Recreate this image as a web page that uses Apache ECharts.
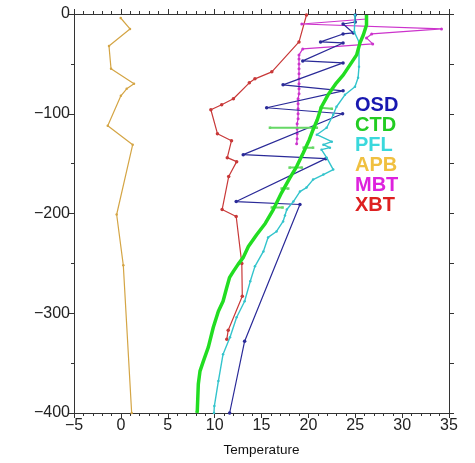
<!DOCTYPE html>
<html>
<head>
<meta charset="utf-8">
<script src="https://cdn.jsdelivr.net/npm/echarts@6/dist/echarts.min.js"></script>
<style>html,body{margin:0;padding:0;background:#fff}#c{width:475px;height:463px}</style>
</head>
<body>
<div id="c"></div>
<script>
// Temperature (x) vs Depth (y) profiles
const OSD = [[25.0,-1],[25.0,-8],[23.7,-10],[24.8,-19],[23.7,-20],[21.3,-28],[23.7,-29],[19.4,-47],[23.7,-49],[17.3,-71],[23.7,-77],[15.55,-94],[23.65,-100],[13.05,-141],[21.85,-145],[12.3,-188],[19.1,-191],[13.2,-328],[11.6,-400]];
const CTD = [[26.2,-1],[26.2,-11],[25.86,-21],[25.5,-29],[25.15,-41],[24.44,-51],[23.73,-61],[23.0,-69],[22.1,-81],[21.4,-93],[20.95,-106],[20.5,-116],[20.1,-126],[19.46,-139],[18.75,-153],[18.04,-164],[17.15,-179],[16.26,-196],[15.4,-210],[14.5,-221],[13.6,-233],[13.06,-244],[12.5,-251],[12.0,-258],[11.6,-264],[11.3,-274],[10.9,-288],[10.4,-298],[9.86,-314],[9.33,-334],[8.8,-348],[8.44,-358],[8.26,-371],[8.15,-398],[8.1,-400]];
const CTD_SPIKES = [[21.3,-94],[22.5,-95],null,[15.9,-114],[20.9,-114],null,[19.5,-134],[20.5,-134],null,[18.0,-154],[19.3,-154],null,[17.15,-175],[17.85,-175],null,[16.1,-194],[17.25,-194]];
const PFL = [[24.97,-1],[24.9,-18],[25.4,-28],[25.4,-53],[25.3,-64],[24.97,-73],[23.9,-81],[23.0,-93],[22.65,-101],[21.95,-114],[20.9,-121],[22.5,-128],[21.6,-131],[22.3,-134],[21.4,-136],[21.95,-144],[22.65,-156],[21.6,-161],[20.5,-166],[19.8,-174],[19.1,-178],[18.4,-188],[17.7,-196],[17.5,-202],[17.3,-208],[16.6,-218],[15.7,-224],[15.2,-238],[14.3,-253],[13.8,-268],[13.2,-288],[12.35,-304],[11.64,-324],[10.9,-341],[10.4,-368],[9.97,-393],[9.93,-400]];
const APB = [[-0.02,-4],[0.97,-15],[-1.27,-32],[-1.05,-55],[1.4,-70],[0.62,-75],[0.0,-82],[-1.4,-112],[1.26,-131],[-0.45,-201],[0.26,-252],[1.15,-400]];
const MBT = [[26.2,-5],[19.3,-10],[34.2,-15],[26.75,-20],[26.2,-24],[26.86,-30],[19.4,-35],[19.0,-41],[19.0,-45],[19.0,-50],[19.0,-55],[19.0,-60],[19.0,-65],[19.0,-70],[19.0,-75],[19.0,-80],[18.9,-85],[18.9,-90],[18.9,-95],[18.9,-100],[18.9,-105],[18.8,-110],[18.8,-115],[18.8,-120],[18.8,-125],[18.75,-130]];
const XBT = [[19.8,-1],[19.0,-28],[16.1,-58],[14.3,-65],[13.7,-69],[12.0,-85],[10.75,-91],[9.6,-96],[10.3,-120],[11.8,-127],[11.35,-144],[12.35,-148],[11.5,-163],[10.8,-196],[12.3,-203],[12.9,-250],[12.95,-283],[11.45,-317],[11.3,-326]];

const X_TICKS = {min:-5, max:35, interval:5};
const Y_TICKS = {min:-400, max:0, interval:100};
const LEGEND = [['OSD','#1818b0'],['CTD','#22cc22'],['PFL','#3ad8dc'],['APB','#f0c040'],['MBT','#dd22dd'],['XBT','#dd2020']];

const FONT = "'Liberation Sans', Arial, Helvetica, sans-serif";
const minus = v => String(v).replace('-', '\u2212');
const axLine = {onZero:false, lineStyle:{color:'#333', width:1}};

const chart = echarts.init(document.getElementById('c'), null, {renderer:'canvas'});
chart.setOption({
  animation:false,
  backgroundColor:'#fff',
  grid:{left:74, right:26, top:14, bottom:50},
  legend:{
    orient:'vertical', left:350, top:95, itemGap:0, itemWidth:0, itemHeight:0, icon:'none', padding:0,
    selectedMode:false,
    textStyle:{fontSize:20, fontWeight:'bold', fontFamily:"'Liberation Sans Narrow','Arial Narrow','Liberation Sans',Arial,sans-serif", lineHeight:20},
    data: LEGEND.map(([n,c]) => ({name:n, textStyle:{color:c}}))
  },
  // the reference image is cropped at its left edge, hiding most of the y-axis name
  graphic:[{type:'rect', left:0, top:150, z:100, shape:{width:23, height:130}, style:{fill:'#fff'}}],
  xAxis:[
    {type:'value', position:'bottom', min:X_TICKS.min, max:X_TICKS.max, interval:X_TICKS.interval,
     name:'Temperature', nameLocation:'middle', nameGap:30, nameTextStyle:{fontSize:13.5, color:'#111', fontFamily:FONT},
     axisLine:axLine, axisTick:{length:5, lineStyle:{color:'#333'}}, minorTick:{show:true, splitNumber:5, length:3, lineStyle:{color:'#333'}},
     axisLabel:{fontSize:16, color:'#222', fontFamily:FONT, margin:5, formatter:minus}, splitLine:{show:false}},
    {type:'value', position:'top', min:X_TICKS.min, max:X_TICKS.max, interval:X_TICKS.interval,
     axisLine:axLine, axisTick:{length:5, lineStyle:{color:'#333'}}, minorTick:{show:true, splitNumber:5, length:3, lineStyle:{color:'#333'}},
     axisLabel:{show:false}, splitLine:{show:false}}
  ],
  yAxis:[
    {type:'value', position:'left', min:Y_TICKS.min, max:Y_TICKS.max, interval:Y_TICKS.interval,
     name:'Depth', nameLocation:'middle', nameGap:40, nameTextStyle:{fontSize:14, color:'#111', fontFamily:FONT},
     axisLine:axLine, axisTick:{length:5, lineStyle:{color:'#333'}}, minorTick:{show:true, splitNumber:2, length:3, lineStyle:{color:'#333'}},
     axisLabel:{fontSize:16, color:'#222', fontFamily:FONT, margin:4, formatter:minus}, splitLine:{show:false}},
    {type:'value', position:'right', min:Y_TICKS.min, max:Y_TICKS.max, interval:50,
     axisLine:axLine, axisTick:{length:5, lineStyle:{color:'#333'}}, axisLabel:{show:false}, splitLine:{show:false}}
  ],
  series:[
    {name:'APB', type:'line', data:APB, color:'#d4a545', lineStyle:{width:1.2}, symbol:'circle', symbolSize:2.5, z:2},
    {name:'XBT', type:'line', data:XBT, color:'#c83838', lineStyle:{width:1.2}, symbol:'circle', symbolSize:3.5, z:3},
    {name:'MBT', type:'line', data:MBT, color:'#cc33cc', lineStyle:{width:1.2}, symbol:'circle', symbolSize:3, z:4},
    {name:'OSD', type:'line', data:OSD, color:'#2a2a98', lineStyle:{width:1.2}, symbol:'circle', symbolSize:3.5, z:5},
    {name:'PFL', type:'line', data:PFL, color:'#33c4cc', lineStyle:{width:1.4}, symbol:'circle', symbolSize:2.5, z:6},
    {name:'CTD', type:'line', data:CTD_SPIKES, color:'#66d866', lineStyle:{width:2}, symbol:'rect', symbolSize:2.5, connectNulls:false, z:7},
    {name:'CTD', type:'line', data:CTD, color:'#22dd22', lineStyle:{width:3.5}, symbol:'none', smooth:false, z:8}
  ]
});
</script>
</body>
</html>
